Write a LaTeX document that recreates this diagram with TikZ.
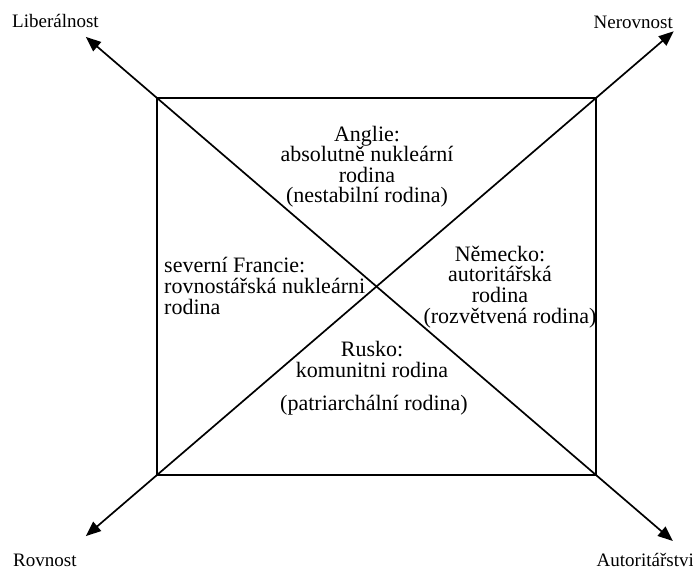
\documentclass[tikz,border=0pt]{standalone}
\usepackage{fontspec}
\setmainfont{Liberation Serif}
\usetikzlibrary{arrows.meta,calc}
\tikzset{
  box/.style={line width=2.2pt},
  axis/.style={line width=1.7pt,{Triangle[length=15pt,width=12pt]}-{Triangle[length=15pt,width=12pt]}},
  body/.style={inner sep=0pt,font=\fontsize{22}{20.5}\selectfont,align=center},
  bodyl/.style={inner sep=0pt,font=\fontsize{22}{21}\selectfont,align=left},
  pole/.style={inner sep=0pt,font=\fontsize{19}{22}\selectfont}
}
\begin{document}
\begin{tikzpicture}[x=1pt,y=-1pt]
\useasboundingbox (0,0) rectangle (693,569);
\coordinate (A) at (157,98);
\coordinate (B) at (596,98);
\coordinate (C) at (596,475);
\coordinate (D) at (157,475);
\coordinate (tl) at ($(A)!-0.162!(C)$);
\coordinate (br) at ($(C)!-0.175!(A)$);
\coordinate (bl) at ($(D)!-0.162!(B)$);
\coordinate (tr) at ($(B)!-0.177!(D)$);
\draw[box] (A) rectangle (C);
\draw[axis] (tl) -- (br);
\draw[axis] (bl) -- (tr);
% pole labels
\node[pole,anchor=base west] (lib) at (12,28) {Liberálnost};
\node[pole,anchor=base east] (ner) at (673,29) {Nerovnost};
\node[pole,anchor=base west] (rov) at (13,566) {Rovnost};
\node[pole,anchor=base east] (aut) at (694,566) {Autoritářstvi};
% quadrant texts (base anchor = baseline of last line)
\node[body,anchor=base] (ang) at (367,203) {Anglie:\\absolutně nukleární\\rodina\\(nestabilní rodina)};
\node[bodyl,anchor=base west] (fra) at (164,314) {severní Francie:\\rovnostářská nukleárni\\rodina};
\node[body,anchor=base] (nem) at (500,302) {Německo:\\autoritářská\\rodina};
\node[body,anchor=base] (nem2) at (510,323) {(rozvětvená rodina)};
\node[body,anchor=base] (rus) at (372,377) {Rusko:\\komunitni rodina};
\node[body,anchor=base] (rus2) at (374,410) {(patriarchální rodina)};
\end{tikzpicture}
\end{document}
